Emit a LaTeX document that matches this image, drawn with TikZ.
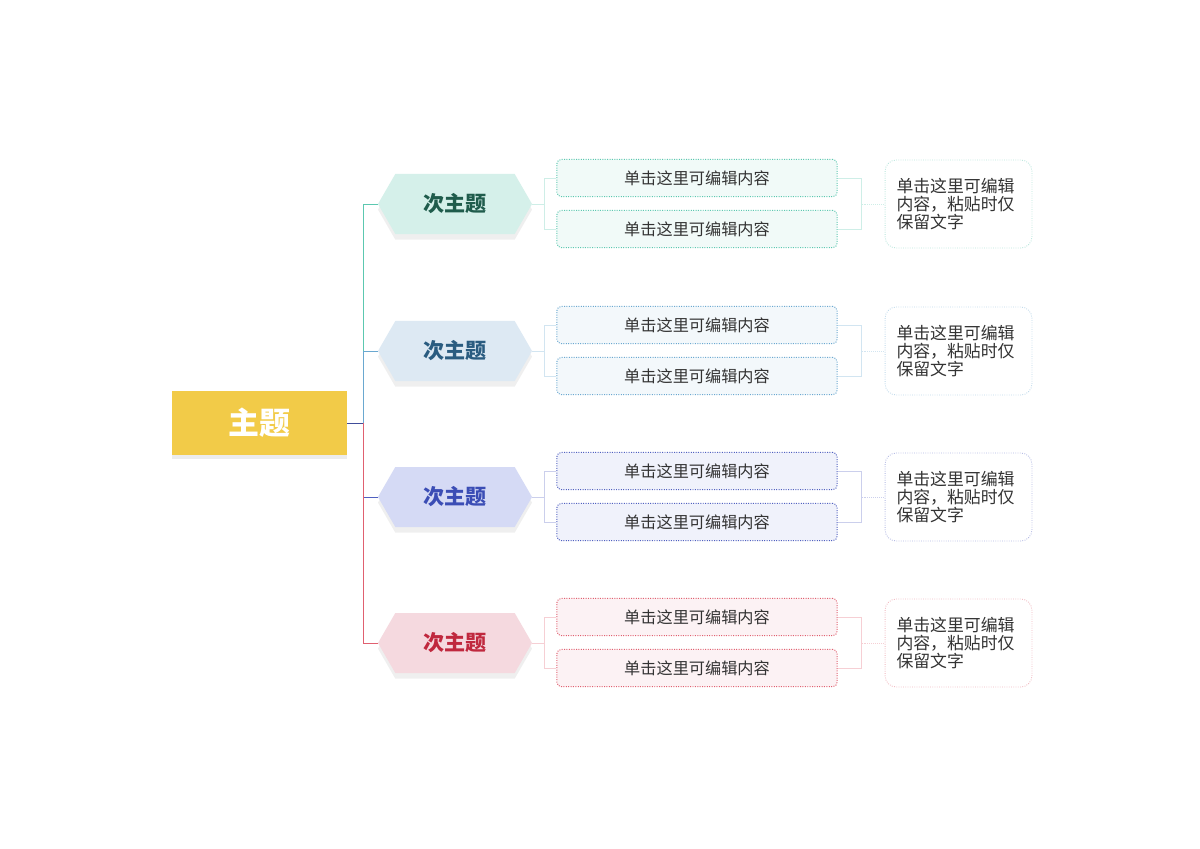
\documentclass[tikz,border=0pt]{standalone}
\usepackage{fontspec}
\setmainfont{Noto Sans CJK SC}
\usetikzlibrary{shapes.symbols,shadows}
\definecolor{gold}{HTML}{F2CB48}
\definecolor{cA}{HTML}{5CC8B0}\definecolor{fA}{HTML}{D5F0EA}\definecolor{tA}{HTML}{1F5C4C}\definecolor{lA}{HTML}{F1FAF8}
\definecolor{cB}{HTML}{6AA8D0}\definecolor{fB}{HTML}{DDE9F3}\definecolor{tB}{HTML}{2A5C80}\definecolor{lB}{HTML}{F3F8FB}
\definecolor{cC}{HTML}{5060C0}\definecolor{fC}{HTML}{D5DAF5}\definecolor{tC}{HTML}{3B4DB5}\definecolor{lC}{HTML}{F0F2FB}
\definecolor{cD}{HTML}{E06070}\definecolor{fD}{HTML}{F5D9DF}\definecolor{tD}{HTML}{C0283E}\definecolor{lD}{HTML}{FCF2F4}
\begin{document}
\begin{tikzpicture}[x=0.025cm,y=-0.025cm]
\tikzset{
  sujet/.style={fill=gold, minimum width=4.375cm, minimum height=1.6cm, text=white,
    font=\bfseries\fontsize{22}{26}\selectfont, drop shadow={opacity=0.15, shadow xshift=0pt, shadow yshift=-3pt}},
  soussujet/.style={signal, signal to=west and east, signal pointer angle=120, fill=#1,
    minimum width=3.85cm, minimum height=1.5cm, font=\bfseries\fontsize{15}{18}\selectfont,
    drop shadow={opacity=0.12, shadow xshift=0pt, shadow yshift=-4pt}},
  feuille/.style={draw=#1, densely dotted, line width=0.7pt, rounded corners=3pt, minimum width=7cm,
    minimum height=0.93cm, font=\fontsize{11.5}{14}\selectfont, text=black!80},
  note/.style={draw=#1!45, densely dotted, line width=0.6pt, fill=white, rounded corners=8pt, minimum width=3.67cm,
    minimum height=2.2cm, font=\fontsize{12}{12.5}\selectfont, text=black!80, align=left, text width=3.1cm, inner sep=0pt},
  trait/.style={line width=0.7pt}
}
\fill[white] (0,0) rectangle (1200,848);
\node[sujet] (M) at (259.5,423) {主题};
\coordinate (T) at (363,423);
\draw[trait, draw=cC!80!black] (M.east) -- (T);
\foreach \y/\c/\f/\t/\l [count=\i] in {204/cA/fA/tA/lA, 351/cB/fB/tB/lB, 497/cC/fC/tC/lC, 643/cD/fD/tD/lD}{
  \node[soussujet=\f, text=\t] (S\i) at (455,\y) {次主题};
  \draw[trait, draw=\c] (T) |- (S\i.west);
  \node[feuille=\c, fill=\l] (A\i) at (697,\y-26) {单击这里可编辑内容};
  \node[feuille=\c, fill=\l] (B\i) at (697,\y+25) {单击这里可编辑内容};
  \draw[draw=\c!30] (S\i.east) -- ++(12,0) coordinate (J\i);
  \draw[draw=\c!30] (J\i) |- (A\i.west);
  \draw[draw=\c!30] (J\i) |- (B\i.west);
  \node[note=\c] (N\i) at (958.5,\y) {单击这里可编辑\\内容，粘贴时仅\\保留文字};
  \draw[draw=\c!30] (A\i.east) -- ++(24,0) coordinate (K\i) |- (B\i.east);
  \draw[draw=\c!30, densely dotted] (K\i |- N\i) -- (N\i.west);
}
\end{tikzpicture}
\end{document}
